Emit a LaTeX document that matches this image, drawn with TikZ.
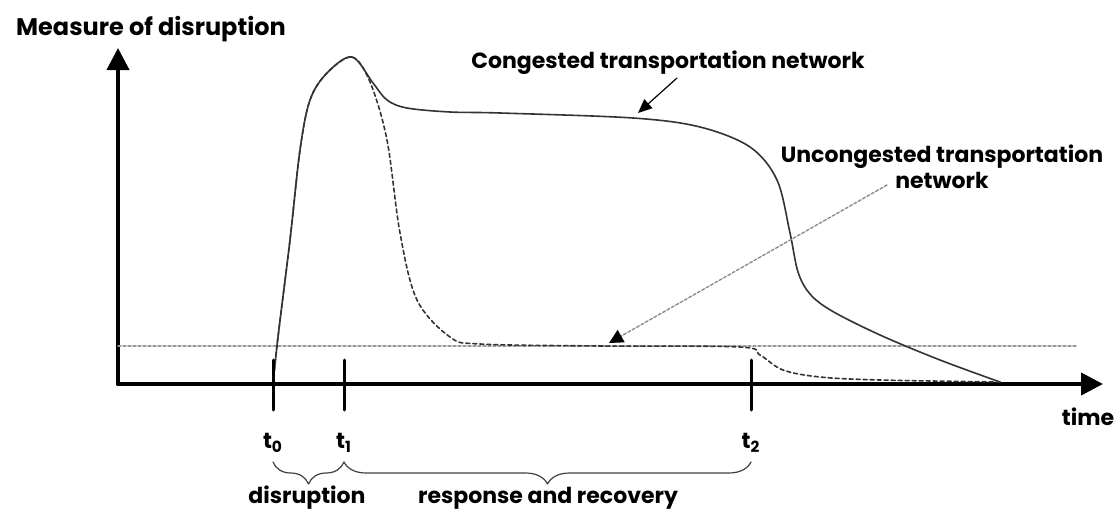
\documentclass[tikz,border=0pt]{standalone}
\usepackage{fontspec}
\setmainfont{Poppins}
\usetikzlibrary{arrows.meta,decorations.pathreplacing}

\tikzset{
  axis/.style={line width=2pt,-{Triangle[length=11pt,width=11pt]}},
  tickmark/.style={line width=1.5pt},
  curve/.style={line width=0.8pt,draw=black!80},
  base/.style={line width=0.7pt,draw=black!40,dash pattern=on 1.5pt off 1pt},
  lbl/.style={font=\fontsize{11}{13}\selectfont\bfseries,inner sep=0pt,align=center},
  brc/.style={decorate,decoration={brace,mirror,amplitude=11pt},line width=0.6pt,draw=black!75},
}

\begin{document}
\begin{tikzpicture}[x=0.5pt,y=-0.5pt,line cap=round,line join=round]
\useasboundingbox (0,0) rectangle (1120,514);

% parameters
\def\yax{384}      % height of the time axis
\def\ybase{346}    % normal level of disruption

% axes
\draw[axis] (118,\yax) -- (118,48);
\draw[axis] (118,\yax) -- (1103,\yax);
\node[lbl,font=\fontsize{12}{14}\selectfont\bfseries] (ylab) at (151,29) {Measure of disruption};
\node[lbl] (xlab) at (1088,417) {time};

% normal level
\draw[base] (118,\ybase) -- (1077,\ybase);

% congested network
\draw[curve] plot[smooth,tension=0.55] coordinates {
  (273,384) (278,337) (290,240) (300,150) (310,100) (327,73) (352,57)
  (373,83) (387,100) (407,108) (450,112) (500,113) (633,118) (700,127)
  (750,147) (777,180) (790,233) (798,272) (810,294) (832,311) (880,335) (940,360) (1000,382)};

% uncongested network
\draw[curve,dash pattern=on 2pt off 1.5pt] plot[smooth,tension=0.55] coordinates {
  (273,384) (278,337) (290,240) (300,150) (310,100) (327,73) (352,57)
  (370,82) (387,140) (400,233) (417,300) (450,337) (480,344) (600,346)
  (740,347) (760,355) (783,370) (820,377) (880,380) (1000,382)};

% curve labels
\node[lbl] (cong) at (668,63) {Congested transportation network};
\node[lbl] (uncong) at (942,167) {Uncongested transportation\\network};
\coordinate (cpt) at (638,113);
\coordinate (upt) at (609,343);
\draw[line width=0.6pt,-{Triangle[length=7pt,width=6pt]}] (677,78) -- (cpt);
\draw[line width=0.7pt,draw=black!45,dash pattern=on 1.5pt off 1pt,
      -{Triangle[length=7pt,width=7pt,color=black]}] (887,185) -- (upt);

% time marks
\foreach \x/\n in {273/0,344/1,751/2}{
  \draw[tickmark] (\x,360) -- (\x,410);
  \node[lbl] (t\n) at (\x,443) {t\textsubscript{\n}};
  \coordinate (b\n) at (\x,462);
}

% phases
\draw[brc] (b0) -- (b1);
\draw[brc] (b1) -- (b2);
\node[lbl] (dis) at (307,498) {disruption};
\node[lbl] (rec) at (548,498) {response and recovery};

\end{tikzpicture}
\end{document}
